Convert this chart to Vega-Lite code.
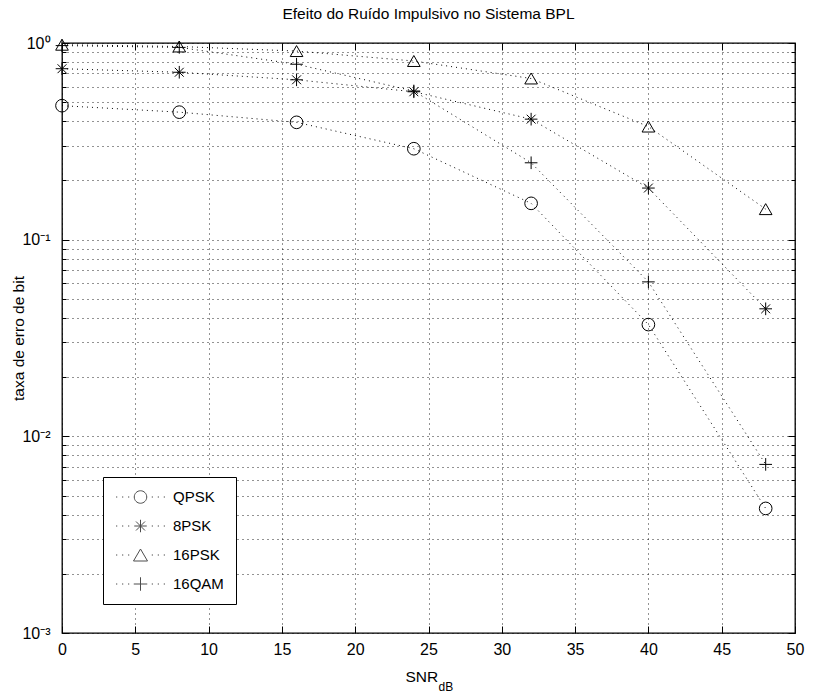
{
  "$schema": "https://vega.github.io/schema/vega-lite/v6.json",
  "width": 733,
  "height": 590,
  "autosize": {"type": "none"},
  "padding": {"left": 62, "top": 43, "right": 42, "bottom": 66},
  "background": "white",
  "title": {
    "text": "Efeito do Ruído Impulsivo no Sistema BPL",
    "font": "Liberation Sans",
    "fontSize": 15.5,
    "fontWeight": "normal",
    "color": "black",
    "offset": 13
  },
  "config": {
    "view": {"stroke": "black", "strokeWidth": 1.3},
    "axis": {
      "labelFont": "Liberation Sans",
      "labelFontSize": 16,
      "labelColor": "black",
      "titleFont": "Liberation Sans",
      "titleFontSize": 15.5,
      "titleFontWeight": "normal",
      "titleColor": "black",
      "tickColor": "black",
      "tickWidth": 1,
      "domain": false,
      "gridColor": "black",
      "gridDash": [1, 4],
      "gridOpacity": 0.85,
      "labelFlush": false,
      "labelOverlap": false
    },
    "legend": {
      "labelFont": "Liberation Sans",
      "labelFontSize": 15,
      "labelColor": "black"
    }
  },
  "datasets": {
    "ber": [
      {"snr": 0, "ber": 0.48, "mod": "QPSK"},
      {"snr": 8, "ber": 0.445, "mod": "QPSK"},
      {"snr": 16, "ber": 0.395, "mod": "QPSK"},
      {"snr": 24, "ber": 0.29, "mod": "QPSK"},
      {"snr": 32, "ber": 0.153, "mod": "QPSK"},
      {"snr": 40, "ber": 0.037, "mod": "QPSK"},
      {"snr": 48, "ber": 0.0043, "mod": "QPSK"},
      {"snr": 0, "ber": 0.74, "mod": "8PSK"},
      {"snr": 8, "ber": 0.71, "mod": "8PSK"},
      {"snr": 16, "ber": 0.65, "mod": "8PSK"},
      {"snr": 24, "ber": 0.565, "mod": "8PSK"},
      {"snr": 32, "ber": 0.41, "mod": "8PSK"},
      {"snr": 40, "ber": 0.183, "mod": "8PSK"},
      {"snr": 48, "ber": 0.0445, "mod": "8PSK"},
      {"snr": 0, "ber": 0.98, "mod": "16PSK"},
      {"snr": 8, "ber": 0.96, "mod": "16PSK"},
      {"snr": 16, "ber": 0.91, "mod": "16PSK"},
      {"snr": 24, "ber": 0.81, "mod": "16PSK"},
      {"snr": 32, "ber": 0.66, "mod": "16PSK"},
      {"snr": 40, "ber": 0.376, "mod": "16PSK"},
      {"snr": 48, "ber": 0.143, "mod": "16PSK"},
      {"snr": 0, "ber": 0.97, "mod": "16QAM"},
      {"snr": 8, "ber": 0.95, "mod": "16QAM"},
      {"snr": 16, "ber": 0.78, "mod": "16QAM"},
      {"snr": 24, "ber": 0.57, "mod": "16QAM"},
      {"snr": 32, "ber": 0.246, "mod": "16QAM"},
      {"snr": 40, "ber": 0.061, "mod": "16QAM"},
      {"snr": 48, "ber": 0.0072, "mod": "16QAM"}
    ]
  },
  "data": {"name": "ber"},
  "resolve": {
    "axis": {"x": "independent", "y": "independent"},
    "scale": {"shape": "independent"}
  },
  "layer": [
    {
      "mark": {"type": "line", "stroke": "black", "strokeWidth": 1, "strokeDash": [1, 4], "clip": false},
      "encoding": {
        "x": {
          "field": "snr", "type": "quantitative",
          "scale": {"domain": [0, 50], "nice": false, "zero": false},
          "axis": {"orient": "bottom", "values": [0, 5, 10, 15, 20, 25, 30, 35, 40, 45, 50], "grid": true, "labels": false, "ticks": true, "tickSize": -7, "title": null}
        },
        "y": {
          "field": "ber", "type": "quantitative",
          "scale": {"type": "log", "domain": [0.001, 1], "nice": false},
          "axis": {
            "orient": "left",
            "values": [0.001, 0.002, 0.003, 0.004, 0.005, 0.006, 0.007, 0.008, 0.009, 0.01, 0.02, 0.03, 0.04, 0.05, 0.06, 0.07, 0.08, 0.09, 0.1, 0.2, 0.3, 0.4, 0.5, 0.6, 0.7, 0.8, 0.9, 1],
            "grid": true, "labels": false, "ticks": true, "tickSize": -4, "title": null
          }
        },
        "detail": {"field": "mod", "type": "nominal"}
      }
    },
    {
      "mark": {"type": "point", "filled": false, "stroke": "black", "strokeWidth": 1, "opacity": 1, "clip": false},
      "encoding": {
        "x": {
          "field": "snr", "type": "quantitative",
          "axis": {"orient": "bottom", "values": [0, 5, 10, 15, 20, 25, 30, 35, 40, 45, 50], "grid": false, "ticks": false, "labels": true, "labelPadding": 8, "title": "SNR", "titleX": 343, "titleY": 43, "titleAlign": "left", "titleBaseline": "middle"}
        },
        "y": {
          "field": "ber", "type": "quantitative",
          "axis": {
            "orient": "left",
            "values": [1, 0.1, 0.01, 0.001],
            "grid": false, "ticks": false, "labelPadding": 12,
            "labelExpr": "['10⁰', '10⁻¹', '10⁻²', '10⁻³'][round(-log(datum.value) / LN10)]",
            "title": "taxa de erro de bit", "titleAngle": -90, "titleX": -44, "titleY": 295, "titleAlign": "center", "titleBaseline": "middle"
          }
        },
        "shape": {
          "field": "mod", "type": "nominal",
          "scale": {
            "domain": ["QPSK", "8PSK", "16PSK", "16QAM"],
            "range": [
              "circle",
              "M-1,0L1,0M0,-1L0,1M-0.7,-0.7L0.7,0.7M-0.7,0.7L0.7,-0.7",
              "triangle-up",
              "M-1,0L1,0M0,-1L0,1"
            ]
          },
          "legend": null
        },
        "size": {
          "field": "mod", "type": "nominal",
          "scale": {"domain": ["QPSK", "8PSK", "16PSK", "16QAM"], "range": [160, 160, 200, 180]},
          "legend": null
        }
      }
    },
    {
      "mark": {"type": "point", "opacity": 0},
      "encoding": {
        "x": {
          "field": "snr", "type": "quantitative",
          "axis": {"orient": "top", "values": [0, 5, 10, 15, 20, 25, 30, 35, 40, 45, 50], "grid": false, "labels": false, "ticks": true, "tickSize": -7, "title": null}
        },
        "y": {
          "field": "ber", "type": "quantitative",
          "axis": {
            "orient": "right",
            "values": [0.002, 0.003, 0.004, 0.005, 0.006, 0.007, 0.008, 0.009, 0.02, 0.03, 0.04, 0.05, 0.06, 0.07, 0.08, 0.09, 0.2, 0.3, 0.4, 0.5, 0.6, 0.7, 0.8, 0.9],
            "grid": false, "labels": false, "ticks": true, "tickSize": -4, "title": null
          }
        }
      }
    },
    {
      "mark": {"type": "point", "opacity": 0},
      "encoding": {
        "x": {
          "field": "snr", "type": "quantitative",
          "axis": {"orient": "bottom", "values": [], "grid": false, "labels": false, "ticks": false, "title": "dB", "titleFontSize": 12, "titleX": 376, "titleY": 53, "titleAlign": "left", "titleBaseline": "middle"}
        },
        "y": {
          "field": "ber", "type": "quantitative",
          "axis": {"orient": "left", "values": [1, 0.1, 0.01, 0.001], "grid": false, "labels": false, "ticks": true, "tickSize": -7, "title": null}
        }
      }
    },
    {
      "mark": {"type": "point", "opacity": 0},
      "encoding": {
        "x": {"field": "snr", "type": "quantitative", "axis": null},
        "y": {
          "field": "ber", "type": "quantitative",
          "axis": {"orient": "right", "values": [1, 0.1, 0.01, 0.001], "grid": false, "labels": false, "ticks": true, "tickSize": -7, "title": null}
        }
      }
    },
    {
      "transform": [{"filter": "false"}],
      "mark": {"type": "point", "filled": false, "stroke": "black", "strokeWidth": 1},
      "encoding": {
        "x": {"field": "snr", "type": "quantitative", "axis": null},
        "y": {"field": "ber", "type": "quantitative", "axis": null},
        "shape": {
          "field": "mod", "type": "nominal",
          "scale": {
            "domain": ["QPSK", "8PSK", "16PSK", "16QAM"],
            "range": [
              "M-0.98,0L-0.93,0M-0.74,0L-0.69,0M-0.5,0L-0.45,0M0.45,0L0.5,0M0.69,0L0.74,0M0.93,0L0.98,0M0.25,0A0.25,0.25 0 1,1 -0.25,0A0.25,0.25 0 1,1 0.25,0",
              "M-0.98,0L-0.93,0M-0.74,0L-0.69,0M-0.5,0L-0.45,0M0.45,0L0.5,0M0.69,0L0.74,0M0.93,0L0.98,0M-0.25,0L0.25,0M0,-0.25L0,0.25M-0.18,-0.18L0.18,0.18M-0.18,0.18L0.18,-0.18",
              "M-0.98,0L-0.93,0M-0.74,0L-0.69,0M-0.5,0L-0.45,0M0.45,0L0.5,0M0.69,0L0.74,0M0.93,0L0.98,0M0,-0.24L-0.28,0.24L0.28,0.24Z",
              "M-0.98,0L-0.93,0M-0.74,0L-0.69,0M-0.5,0L-0.45,0M0.45,0L0.5,0M0.69,0L0.74,0M0.93,0L0.98,0M-0.27,0L0.27,0M0,-0.27L0,0.27"
            ]
          },
          "legend": {
            "title": null,
            "orient": "none",
            "legendX": 41,
            "legendY": 434,
            "symbolSize": 2500,
            "symbolStrokeColor": "black",
            "symbolStrokeWidth": 1,
            "symbolFillColor": "transparent",
            "clipHeight": 16,
            "rowPadding": 13,
            "labelOffset": 7,
            "padding": 12,
            "fillColor": "white",
            "strokeColor": "black",
            "cornerRadius": 0
          }
        }
      }
    }
  ]
}
